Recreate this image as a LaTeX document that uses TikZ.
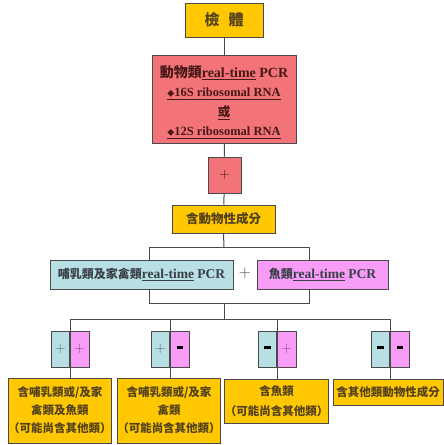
\documentclass[tikz,border=0pt]{standalone}
\usepackage{fontspec}
\newfontfamily\cjk{Noto Sans CJK TC}
\newfontfamily\tms{Liberation Serif}
\definecolor{yel}{HTML}{FFC800}
\definecolor{redb}{HTML}{F27478}
\definecolor{blu}{HTML}{B8DFE3}
\definecolor{pnk}{HTML}{F79CF7}
\definecolor{txt}{HTML}{54421C}
\definecolor{rtxt}{HTML}{4A1818}
\definecolor{btxt}{HTML}{3A4048}
\definecolor{ln}{HTML}{4A4A4A}
\definecolor{pls}{HTML}{5A6A70}
\definecolor{ppl}{HTML}{9A3A9A}
\newcommand\rtp[1]{{\tms\bfseries\fontsize{#1}{#1}\selectfont\underline{real-time} PCR}}
\newcommand\mns{\rule[2.5pt]{6.5pt}{2.6pt}}
\begin{document}
\begin{tikzpicture}[x=1pt,y=-1pt,
  box/.style={draw=ln, line width=1pt, inner sep=0pt, align=center, text=txt},
  ybox/.style={box, fill=yel},
  rbox/.style={box, fill=redb, text=rtxt},
  bbox/.style={box, fill=blu, text=btxt},
  pbox/.style={box, fill=pnk, text=btxt},
  conn/.style={draw=ln, line width=1pt},
  ytext/.style={font=\cjk\bfseries\fontsize{11.5}{18}\selectfont}
]
\useasboundingbox (0,0) rectangle (444,445);
% top
\node[ybox, minimum width=78pt, minimum height=34pt, font=\cjk\bfseries\fontsize{15}{18}\selectfont] (top) at (224,20) {檢\hspace{9pt}體};
\node[rbox, minimum width=144pt, minimum height=88pt] (red) at (224,99) {};
\node[text=rtxt, align=center, inner sep=0pt, font=\fontsize{12.5}{19.5}\selectfont] (redt) at (224,102)
 {{\cjk\bfseries\fontsize{14}{19.5}\selectfont 動物類}\rtp{14}\\
  {\tms\bfseries\underline{{\cjk\fontsize{7}{7}\selectfont ◆}16S ribosomal RNA}}\\
  \underline{\cjk\bfseries 或}\\
  {\tms\bfseries\underline{{\cjk\fontsize{7}{7}\selectfont ◆}12S ribosomal RNA}}};
\node[rbox, minimum width=33pt, minimum height=36pt, font=\fontsize{14}{14}\selectfont] (plus) at (224.5,175) {+};
\node[ybox, minimum width=103pt, minimum height=28pt, font=\cjk\bfseries\fontsize{12.5}{14}\selectfont] (mid) at (223.5,219) {含動物性成分};
\node[bbox, minimum width=183pt, minimum height=29pt] (blue) at (141.5,274.5)
 {{\cjk\bfseries\fontsize{12}{14}\selectfont 哺乳類及家禽類}\rtp{13.5}};
\node[pbox, minimum width=131pt, minimum height=29pt] (pink) at (322.5,274.5)
 {{\cjk\bfseries\fontsize{12}{14}\selectfont 魚類}\rtp{13.5}};
\node[text=ln, font=\fontsize{17}{17}\selectfont] (andp) at (245,273) {+};
% connectors upper
\draw[conn] (top) -- (red);
\draw[conn] (red) -- (plus);
\draw[conn] (plus) -- (mid);
\coordinate (hl) at (149,247);
\coordinate (hr) at (309,247);
\coordinate (hm) at (224,247);
\draw[conn] (mid.south) -- (hm);
\draw[conn] (blue.north -| hl) -- (hl) -- (hr) -- (pink.north -| hr);
\coordinate (ll) at (149,303);
\coordinate (lr) at (309,303);
\coordinate (lm) at (224,303);
\coordinate (bm) at (224,319);
\draw[conn] (blue.south -| ll) -- (ll) -- (lr) -- (pink.south -| lr);
\draw[conn] (lm) -- (bm);
\coordinate (c1) at (70,319);
\coordinate (c2) at (170,319);
\coordinate (c3) at (277,319);
\coordinate (c4) at (390,319);
\draw[conn] (c1) -- (c4);
% yellow result boxes
\node[ybox, ytext, minimum width=102pt, minimum height=65pt] (y1) at (60,410.5) {含哺乳類或/及家\\禽類及魚類\\（可能尚含其他類）};
\node[ybox, ytext, minimum width=102pt, minimum height=65pt] (y2) at (169,410.5) {含哺乳類或/及家\\禽類\\（可能尚含其他類）};
\node[ybox, minimum width=101pt, minimum height=44pt, font=\cjk\bfseries\fontsize{11.5}{20}\selectfont] (y3) at (276.5,401) {含魚類\\（可能尚含其他類）};
\node[ybox, ytext, minimum width=110pt, minimum height=26pt] (y4) at (388,392) {含其他類動物性成分};
% small result boxes
\foreach \i/\x/\a/\b in {1/70/{\color{pls}+}/{\color{ppl}+}, 2/170/{\color{pls}+}/\mns, 3/277/\mns/{\color{ppl}+}, 4/390/\mns/\mns}{
  \node[bbox, minimum width=18.5pt, minimum height=36pt, anchor=east, font=\fontsize{15}{15}\selectfont, text=black] (s\i l) at (\x,349) {\a};
  \node[pbox, minimum width=18.5pt, minimum height=36pt, anchor=west, font=\fontsize{15}{15}\selectfont, text=black] (s\i r) at (\x,349) {\b};
  \draw[conn] (c\i) -- (s\i l.north east);
  \draw[conn] (s\i l.south east) -- (y\i.north -| c\i);
}
\end{tikzpicture}
\end{document}
